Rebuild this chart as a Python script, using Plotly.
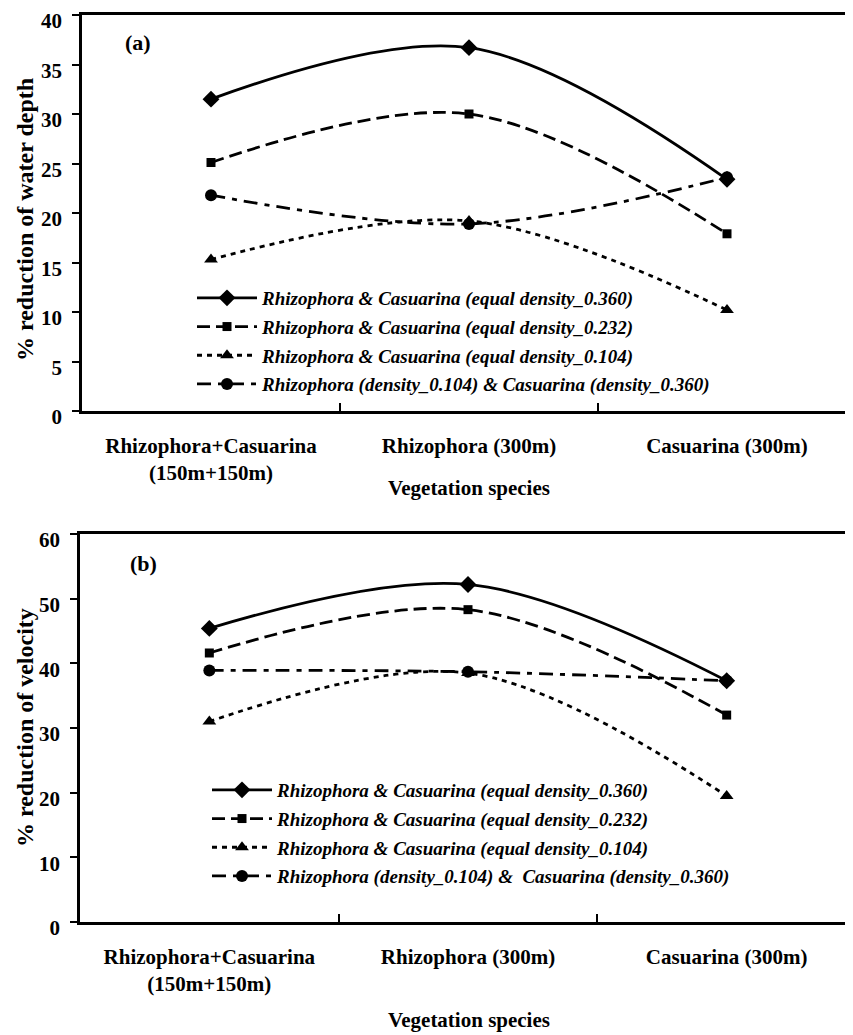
import plotly.graph_objects as go

categories = ["Rhizophora+Casuarina<br>(150m+150m)", "Rhizophora (300m)", "Casuarina (300m)"]

series_names = [
    "Rhizophora & Casuarina (equal density_0.360)",
    "Rhizophora & Casuarina (equal density_0.232)",
    "Rhizophora & Casuarina (equal density_0.104)",
    "Rhizophora (density_0.104) & Casuarina (density_0.360)",
]
series_names_b = [
    "Rhizophora & Casuarina (equal density_0.360)",
    "Rhizophora & Casuarina (equal density_0.232)",
    "Rhizophora & Casuarina (equal density_0.104)",
    "Rhizophora (density_0.104) &  Casuarina (density_0.360)",
]

# Panel (a): % reduction of water depth
depth_360 = [31.5, 36.7, 23.4]
depth_232 = [25.1, 30.0, 17.9]
depth_104 = [15.3, 19.2, 10.2]
depth_mix = [21.8, 18.9, 23.6]

# Panel (b): % reduction of velocity
vel_360 = [45.4, 52.2, 37.3]
vel_232 = [41.6, 48.3, 32.0]
vel_104 = [31.0, 38.5, 19.5]
vel_mix = [38.9, 38.7, 37.3]

W, H = 853, 1035
def px(x):
    return x / W
def py(y):
    return 1 - y / H

styles = [
    dict(dash="solid", symbol="diamond", size=13),
    dict(dash="13px,6px", symbol="square", size=9),
    dict(dash="5px,5px", symbol="triangle-up", size=12),
    dict(dash="14px,7px,5px,7px", symbol="circle", size=12),
]

SERIF = "Liberation Serif"
fig = go.Figure()

panel_a = [depth_360, depth_232, depth_104, depth_mix]
panel_b = [vel_360, vel_232, vel_104, vel_mix]

for i, (vals, st) in enumerate(zip(panel_a, styles)):
    fig.add_trace(go.Scatter(
        x=categories, y=vals, mode="lines+markers",
        name="<b><i>" + series_names[i] + "</i></b>",
        line=dict(color="black", width=2.8, dash=st["dash"], shape="spline", smoothing=1.0),
        marker=dict(symbol=st["symbol"], size=st["size"], color="black"),
        xaxis="x", yaxis="y", legend="legend", legendgroup="a%d" % i,
    ))
for i, (vals, st) in enumerate(zip(panel_b, styles)):
    fig.add_trace(go.Scatter(
        x=categories, y=vals, mode="lines+markers",
        name="<b><i>" + series_names_b[i] + "</i></b>",
        line=dict(color="black", width=2.8, dash=st["dash"], shape="spline", smoothing=1.0),
        marker=dict(symbol=st["symbol"], size=st["size"], color="black"),
        xaxis="x2", yaxis="y2", legend="legend2", legendgroup="b%d" % i,
    ))

xcommon = dict(
    type="category", range=[-0.5, 2.5], showgrid=False, zeroline=False, automargin=False,
    showline=True, linecolor="black", linewidth=2.8, mirror=True,
    ticks="inside", ticklen=8, tickwidth=2, tickcolor="black", tickson="boundaries",
    tickfont=dict(family=SERIF, size=21, color="black", weight="bold"),
    ticklabelstandoff=14,
)
ycommon = dict(
    showgrid=False, zeroline=False, automargin=False,
    showline=True, linecolor="black", linewidth=2.8, mirror=True,
    ticks="outside", ticklen=7, tickwidth=2, tickcolor="black",
    tickfont=dict(family=SERIF, size=21, color="black", weight="bold"),
    ticklabelstandoff=6, ticklabeloverflow="allow", ticklabelshift=6,
)

legend_common = dict(
    font=dict(family=SERIF, size=19, color="black"),
    bgcolor="rgba(0,0,0,0)", borderwidth=0,
    itemwidth=60, tracegroupgap=1, traceorder="grouped",
    xanchor="left", yanchor="top",
)

fig.update_layout(
    template="none",
    width=W, height=H,
    margin=dict(l=0, r=0, t=0, b=0, autoexpand=False),
    paper_bgcolor="white", plot_bgcolor="white",
    showlegend=True,
    xaxis=dict(domain=[px(74), px(848)], anchor="y", **xcommon),
    yaxis=dict(domain=[py(403), py(7)], anchor="x", range=[0, 40], dtick=5, **ycommon),
    xaxis2=dict(domain=[px(72), px(848)], anchor="y2", **xcommon),
    yaxis2=dict(domain=[py(914), py(526)], anchor="x2", range=[0, 60], dtick=10, **ycommon),
    legend=dict(x=px(184), y=py(271), **legend_common),
    legend2=dict(x=px(199), y=py(763), **legend_common),
)

ann_font = dict(family=SERIF, size=22, color="black", weight="bold")
title_font = dict(family=SERIF, size=21, color="black", weight="bold")
common = dict(xref="paper", yref="paper", showarrow=False, xanchor="center", yanchor="middle")
annotations = [
    dict(text="(a)", x=px(130), y=py(34), font=ann_font, **common),
    dict(text="(b)", x=px(135), y=py(555), font=ann_font, **common),
    dict(text="Vegetation species", x=px(461), y=py(480), font=title_font, **common),
    dict(text="Vegetation species", x=px(461), y=py(1012), font=title_font, **common),
    dict(text="% reduction of water depth", x=px(17), y=py(212), textangle=-90,
         font=dict(family=SERIF, size=24, color="black", weight="bold"), **common),
    dict(text="% reduction of velocity", x=px(17), y=py(720), textangle=-90,
         font=dict(family=SERIF, size=24, color="black", weight="bold"), **common),
]
fig.update_layout(annotations=annotations)

fig.write_html("out.html")
